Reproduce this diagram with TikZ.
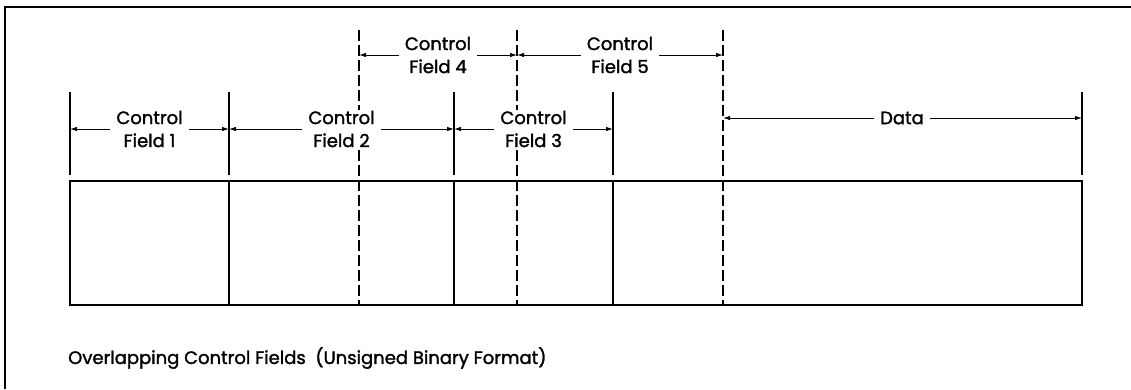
\documentclass[tikz,border=0pt]{standalone}
\usepackage{fontspec}
\setmainfont{Poppins}[UprightFeatures={FakeBold=1.6}]
\usetikzlibrary{arrows.meta}
\begin{document}
\begin{tikzpicture}[x=1pt,y=-1pt,
  boxline/.style={line width=1.3pt},
  frameline/.style={line width=2.4pt},
  dashline/.style={line width=1.3pt, dash pattern=on 11pt off 4pt},
  dimarrow/.style={line width=0.9pt, -{Latex[length=7pt,width=4.5pt]}},
  lbl/.style={fill=white, inner xsep=6pt, inner ysep=1pt, align=center, font=\fontsize{18}{23}\selectfont},
  captiontext/.style={inner sep=0pt, anchor=west, font=\fontsize{18}{20}\selectfont}
]
\useasboundingbox (0,0) rectangle (1131,389);
% frame
\draw[frameline] (5,389) -- (5,7) -- (1131,7);
% record box
\draw[boxline] (70,181) rectangle (1082,305);
\foreach \x in {229,454,613} \draw[boxline] (\x,181) -- (\x,305);
% solid extension ticks
\foreach \x in {70,229,454,613,1082} \draw[boxline] (\x,92) -- (\x,175);
% dashed boundaries
\foreach \x in {359,517,723} \draw[dashline] (\x,30) -- (\x,305);
% dimension coordinates
\coordinate (a1) at (70,129);
\coordinate (a2) at (229,129);
\coordinate (a3) at (454,129);
\coordinate (a4) at (613,129);
\coordinate (b1) at (359,55);
\coordinate (b2) at (517,55);
\coordinate (b3) at (723,55);
\coordinate (d1) at (723,118);
\coordinate (d2) at (1082,118);
% labels
\node[lbl] (f1) at (149.5,129) {Control\\Field 1};
\node[lbl] (f2) at (341.5,129) {Control\\Field 2};
\node[lbl] (f3) at (533.5,129) {Control\\Field 3};
\node[lbl] (f4) at (438,55) {Control\\Field 4};
\node[lbl] (f5) at (620,55) {Control\\Field 5};
\node[lbl] (fd) at (902,118) {Data};
% dimension arrows
\draw[dimarrow] (f1) -- (a1); \draw[dimarrow] (f1) -- (a2);
\draw[dimarrow] (f2) -- (a2); \draw[dimarrow] (f2) -- (a3);
\draw[dimarrow] (f3) -- (a3); \draw[dimarrow] (f3) -- (a4);
\draw[dimarrow] (f4) -- (b1); \draw[dimarrow] (f4) -- (b2);
\draw[dimarrow] (f5) -- (b2); \draw[dimarrow] (f5) -- (b3);
\draw[dimarrow] (fd) -- (d1); \draw[dimarrow] (fd) -- (d2);
% caption
\node[captiontext] (caption) at (68,358) {Overlapping Control Fields\ \ (Unsigned Binary Format)};
\end{tikzpicture}
\end{document}
